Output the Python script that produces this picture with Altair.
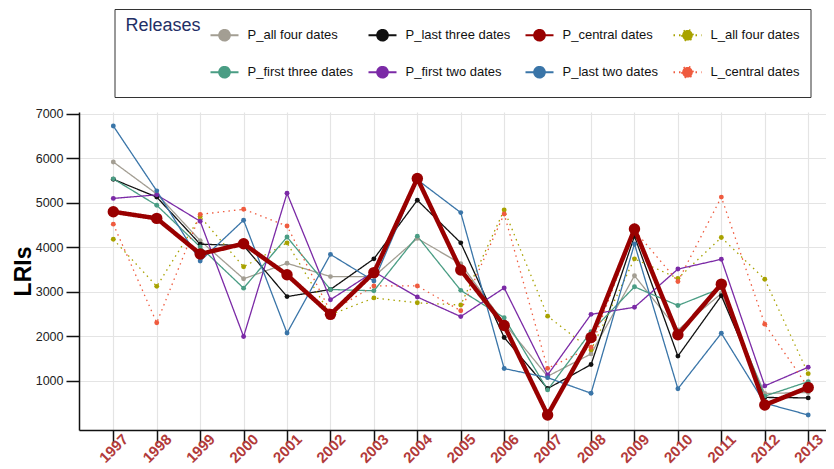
import altair as alt
import pandas as pd

years = list(range(1997, 2014))

series = [
    "P_all four dates", "P_last three dates", "P_central dates", "L_all four dates",
    "P_first three dates", "P_first two dates", "P_last two dates", "L_central dates",
]
colors = ["#a39e93", "#111111", "#990000", "#a8a200",
          "#4a9d84", "#7b2aa6", "#3a75a8", "#ef5b3f"]

p_all_four = [5920, 5200, 4150, 3290, 3640, 3340, 3340, 4200, 3630, 2290, 1095, 1600, 3360, 2140, 2960, 710, 730]
p_last_three = [5530, 5130, 4070, 4040, 2890, 3050, 3740, 5060, 4100, 1970, 820, 1360, 4250, 1550, 2910, 620, 610]
p_central = [4800, 4650, 3850, 4080, 3380, 2490, 3430, 5550, 3490, 2240, 225, 1970, 4410, 2030, 3170, 450, 845]
l_all_four = [4180, 3120, 4690, 3560, 4100, 2480, 2860, 2750, 2700, 4840, 2450, 1690, 3740, 3300, 4220, 3280, 1155]
p_first_three = [5540, 4945, 4010, 3080, 4230, 3050, 3020, 4250, 3030, 2415, 790, 2100, 3110, 2690, 3080, 650, 975]
p_first_two = [5100, 5180, 4585, 1990, 5215, 2820, 3450, 2880, 2440, 3085, 1125, 2490, 2650, 3510, 3730, 880, 1300]
p_last_two = [6730, 5270, 3690, 4610, 2070, 3840, 3240, 5520, 4780, 1270, 1065, 715, 4075, 815, 2065, 490, 225]
l_central = [4520, 2300, 4740, 4855, 4480, 2550, 3130, 3130, 2570, 4750, 1275, 1750, 4380, 3230, 5130, 2270, 850]

values = dict(zip(series, [p_all_four, p_last_three, p_central, l_all_four,
                           p_first_three, p_first_two, p_last_two, l_central]))

rows = []
for s in series:
    for yr, v in zip(years, values[s]):
        rows.append({"year": yr, "series": s, "value": v})
df = pd.DataFrame(rows)

dashes = [[1, 0] if s.startswith("P") else [1.5, 4] for s in series]
y_ticks = [1000, 2000, 3000, 4000, 5000, 6000, 7000]

# line + dot legend glyph; the bare move only widens the entry's box downward
sym_path = ("M0,0.68M-1,0H1M-0.38,0A0.38,0.38,0,1,0,0.38,0"
            "A0.38,0.38,0,1,0,-0.38,0Z")


def make_legend():
    return alt.Legend(
        title="Releases", orient="none", legendX=35.5, legendY=-103, columns=4,
        direction="horizontal",
        titleOrient="left", titleAnchor="start", titleBaseline="line-top",
        titleLineHeight=10.6,
        titleFontSize=18, titleFontWeight="normal", titleColor="#1f2f66",
        titlePadding=8,
        labelFontSize=13, labelColor="#111111", labelOffset=8,
        symbolType=sym_path, symbolSize=784, symbolStrokeWidth=2,
        strokeColor="#333333", padding=11, columnPadding=11, rowPadding=8.2,
    )


stroke = alt.Stroke("series:N", scale=alt.Scale(domain=series, range=colors), legend=make_legend())
fill = alt.Fill("series:N", scale=alt.Scale(domain=series, range=colors), legend=make_legend())
dash_enc = alt.StrokeDash("series:N", scale=alt.Scale(domain=series, range=dashes), legend=make_legend())

x = alt.X("year:Q",
          scale=alt.Scale(domain=[1996.21, 2013.41], nice=False, zero=False),
          axis=alt.Axis(values=years, format="d", title=None, labelAngle=-45,
                        labelAlign="center", labelBaseline="middle", labelPadding=5,
                        labelFontSize=15, labelFontWeight="bold", labelColor="#b23a3a",
                        tickSize=13, tickColor="#111111", tickWidth=1.5,
                        domainColor="#111111", domainWidth=1.5,
                        grid=True, gridColor="#e4e4e4", gridWidth=1.2, labelFlush=False,
                        labelOverlap=False))
y = alt.Y("value:Q",
          scale=alt.Scale(domain=[-113, 7045], nice=False, zero=False),
          axis=alt.Axis(values=y_ticks, format="d", title="LRIs", titleFontSize=23,
                        titleFontWeight="bold", titleColor="#000000", titlePadding=0,
                        labelFontSize=12.5, labelColor="#222222", labelPadding=3,
                        tickSize=13, tickColor="#111111", tickWidth=1.5,
                        domainColor="#111111", domainWidth=1.5,
                        grid=True, gridColor="#e4e4e4", gridWidth=1.2))

base = alt.Chart(df).encode(x=x, y=y)
others = base.transform_filter(alt.datum.series != "P_central dates")
central = base.transform_filter(alt.datum.series == "P_central dates")

lines = others.mark_line(strokeWidth=1.3).encode(stroke=stroke, strokeDash=dash_enc)
pts = others.mark_circle(size=24, opacity=1).encode(fill=fill)
cline = central.mark_line(strokeWidth=4.5).encode(stroke=stroke, strokeDash=dash_enc)
cpts = central.mark_circle(size=130, opacity=1).encode(fill=fill)

chart = alt.layer(lines, pts, cline, cpts).properties(
    width=747, height=318,
    autosize=alt.AutoSizeParams(type="none"),
    padding={"left": 71, "top": 104, "right": 0, "bottom": 39},
).configure(font="Liberation Sans").configure_view(stroke=None)

chart.save("out.html", embed_options={"renderer": "svg", "actions": False})
